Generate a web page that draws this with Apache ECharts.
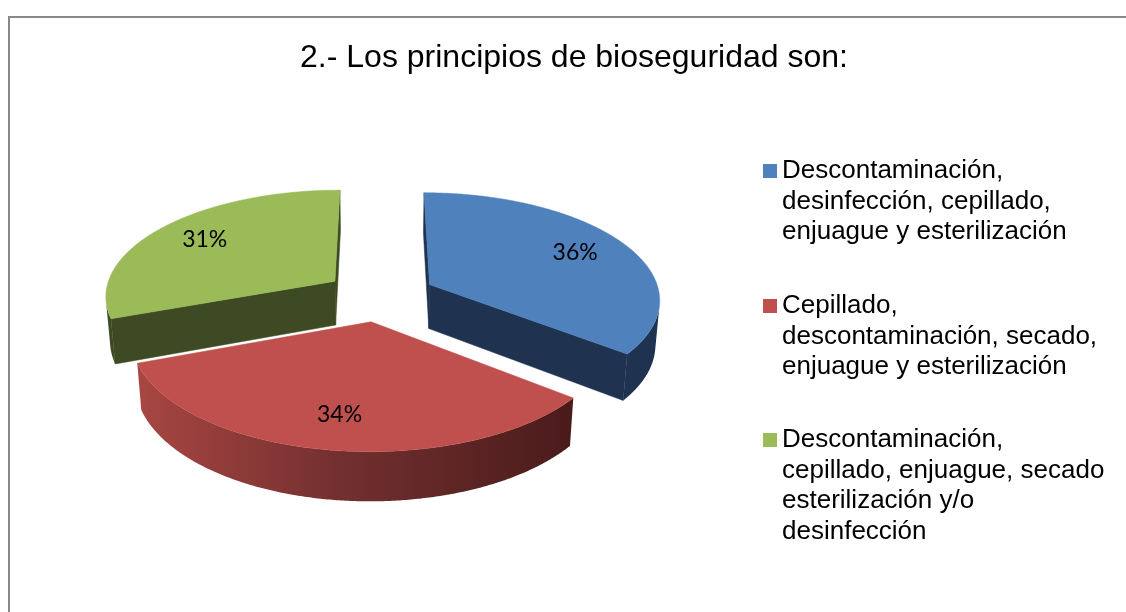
<!DOCTYPE html>
<html>
<head>
<meta charset="utf-8">
<script src="https://cdn.jsdelivr.net/npm/echarts@6.0.0/dist/echarts.min.js"></script>
<style>
  html, body { margin: 0; padding: 0; background: #fff; }
  #chart { width: 1126px; height: 612px; }
</style>
</head>
<body>
<div id="chart"></div>
<script>
// datos del grafico
const titleText = '2.- Los principios de bioseguridad son:';
const categories = [
  'Descontaminación,\ndesinfección, cepillado,\nenjuague y esterilización',
  'Cepillado,\ndescontaminación, secado,\nenjuague y esterilización',
  'Descontaminación,\ncepillado, enjuague, secado\nesterilización y/o\ndesinfección'
];
const percents = [36, 34, 31];

// estilos
const topColors = ['#4F81BD', '#C0504D', '#9BBB59'];
const sideColors = ['#1F3250', '#6E2B2B', '#3E4A23'];
const LEGEND_LH = 30.5;
const legendFirstLine = [171, 306, 440];

// geometria del pastel 3D (perspectiva simple)
const PIE = {
  cx: 380, cy: 340, scale: 227,
  tilt: 29 * Math.PI / 180, dist: 7,
  explode: 0.242, height: 0.22, labelR: 0.75
};
const sinT = Math.sin(PIE.tilt), cosT = Math.cos(PIE.tilt);
const cam = [0, PIE.dist * sinT, -PIE.dist * cosT];

function project(X, Y, Z) {
  const depth = PIE.dist + Z * cosT - Y * sinT;
  const p = PIE.dist / depth;
  return [PIE.cx + PIE.scale * X * p, PIE.cy - PIE.scale * (Y * cosT + Z * sinT) * p];
}

function facing(n, P) {
  return n[0] * (cam[0] - P[0]) + n[1] * (cam[1] - P[1]) + n[2] * (cam[2] - P[2]) > 0;
}

const total = percents.reduce((a, b) => a + b, 0);

function sliceAngles(i) {
  let start = 0;
  for (let j = 0; j < i; j++) start += percents[j];
  return [start / total * Math.PI * 2, (start + percents[i]) / total * Math.PI * 2];
}

function sideFill(i) {
  if (i === 1) {
    // pared exterior roja con degradado
    return new echarts.graphic.LinearGradient(0, 0, 1, 0, [
      { offset: 0, color: '#A84642' },
      { offset: 0.45, color: '#743030' },
      { offset: 1, color: '#4A1B1B' }
    ]);
  }
  return sideColors[i];
}

function makeRenderItem(i) {
  return function (params, api) {
    const val = api.value(0);
    const a0 = sliceAngles(i)[0];
    const a1 = a0 + val / total * Math.PI * 2;
    const mid = (a0 + a1) / 2;
    const ox = PIE.explode * Math.sin(mid);
    const oz = PIE.explode * Math.cos(mid);
    const h = PIE.height;
    const rim = (a, y) => project(ox + Math.sin(a), y, oz + Math.cos(a));
    const steps = Math.max(8, Math.ceil((a1 - a0) / (Math.PI / 360)));
    const children = [];

    // paredes radiales
    [[a0, -1], [a1, 1]].forEach(([a, sg]) => {
      const n = sg < 0 ? [-Math.cos(a), 0, Math.sin(a)] : [Math.cos(a), 0, -Math.sin(a)];
      const P = [ox + 0.5 * Math.sin(a), h / 2, oz + 0.5 * Math.cos(a)];
      if (!facing(n, P)) return;
      children.push({
        type: 'polygon',
        shape: { points: [project(ox, h, oz), rim(a, h), rim(a, 0), project(ox, 0, oz)] },
        style: { fill: sideColors[i], stroke: sideColors[i], lineWidth: 0.5 }
      });
    });

    // pared exterior (solo la parte visible)
    const topPts = [], botPts = [];
    for (let k = 0; k <= steps; k++) {
      const a = a0 + (a1 - a0) * k / steps;
      const n = [Math.sin(a), 0, Math.cos(a)];
      const P = [ox + Math.sin(a), h / 2, oz + Math.cos(a)];
      if (facing(n, P)) {
        topPts.push(rim(a, h));
        botPts.push(rim(a, 0));
      }
    }
    if (topPts.length > 1) {
      children.push({
        type: 'polygon',
        shape: { points: topPts.concat(botPts.reverse()) },
        style: { fill: sideFill(i) }
      });
    }

    // cara superior
    const face = [project(ox, h, oz)];
    for (let k = 0; k <= steps; k++) {
      face.push(rim(a0 + (a1 - a0) * k / steps, h));
    }
    children.push({
      type: 'polygon',
      shape: { points: face },
      style: { fill: topColors[i], stroke: topColors[i], lineWidth: 0.5 }
    });

    // etiqueta
    const lp = project(ox + PIE.labelR * Math.sin(mid), h, oz + PIE.labelR * Math.cos(mid));
    children.push({
      type: 'text',
      x: lp[0], y: lp[1],
      style: {
        text: val + '%',
        fill: '#000',
        fontSize: 23,
        fontFamily: 'Lato',
        align: 'center',
        verticalAlign: 'middle'
      }
    });

    return { type: 'group', children };
  };
}

// orden de pintado: las porciones del fondo primero
const zOrder = percents.map((v, i) => {
  const [a0, a1] = sliceAngles(i);
  return { i, back: Math.cos((a0 + a1) / 2) };
}).sort((a, b) => b.back - a.back);
const zOf = [];
zOrder.forEach((o, rank) => { zOf[o.i] = 2 + rank; });

// icono de leyenda: cuadrado alineado con la primera linea del texto
function legendIcon(lines) {
  const H = lines * LEGEND_LH;
  const c = LEGEND_LH / 2;
  return 'path://M0,0L0,0M0,' + (c - 7) + 'H14V' + (c + 7) + 'H0ZM14,' + H + 'L14,' + H;
}

const chart = echarts.init(document.getElementById('chart'), null, { renderer: 'canvas' });

const option = {
  backgroundColor: '#fff',
  animation: false,
  title: {
    text: titleText,
    left: 574,
    top: 42,
    textAlign: 'center',
    padding: 0,
    textStyle: {
      fontFamily: 'Liberation Sans',
      fontSize: 32,
      fontWeight: 'normal',
      color: '#000'
    }
  },
  graphic: [{
    type: 'rect',
    silent: true,
    shape: { x: 9, y: 17, width: 1300, height: 800 },
    style: { fill: 'none', stroke: '#888', lineWidth: 2 }
  }],
  legend: categories.map((name, i) => {
    const lines = name.split('\n').length;
    return {
      data: [{ name, icon: legendIcon(lines) }],
      orient: 'vertical',
      left: 763,
      top: legendFirstLine[i] - LEGEND_LH / 2,
      padding: 0,
      itemWidth: 14,
      itemHeight: lines * LEGEND_LH,
      selectedMode: false,
      textStyle: {
        fontFamily: 'Liberation Sans',
        fontSize: 26,
        lineHeight: LEGEND_LH,
        color: '#000'
      }
    };
  }),
  series: categories.map((name, i) => ({
    type: 'custom',
    name,
    coordinateSystem: 'none',
    z: zOf[i],
    silent: true,
    itemStyle: { color: topColors[i] },
    data: [percents[i]],
    renderItem: makeRenderItem(i)
  }))
};

chart.setOption(option);
window.addEventListener('resize', () => chart.resize());
</script>
</body>
</html>
